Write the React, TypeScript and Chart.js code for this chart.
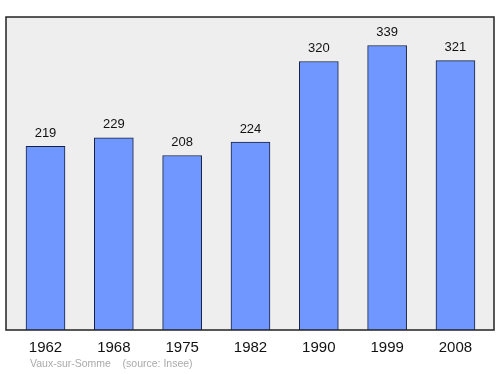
import React, { useEffect, useRef } from "react";
import { Chart, registerables } from "chart.js";

Chart.register(...registerables);

const years: string[] = ["1962", "1968", "1975", "1982", "1990", "1999", "2008"];
const population: number[] = [219, 229, 208, 224, 320, 339, 321];
const sourceText = "Vaux-sur-Somme    (source: Insee)";

const FONT = "'Liberation Sans', Arial, sans-serif";

export default function App() {
  const ref = useRef<HTMLCanvasElement | null>(null);

  useEffect(() => {
    document.body.style.margin = "0";
    const canvas = ref.current;
    if (!canvas) return;

    const framePlugin = {
      id: "frame",
      beforeDatasetsDraw(chart: any) {
        const { ctx, chartArea: a } = chart;
        ctx.save();
        ctx.fillStyle = "#eeeeee";
        ctx.fillRect(a.left, a.top, a.right - a.left, a.bottom - a.top);
        ctx.restore();
      },
      afterDatasetsDraw(chart: any) {
        const { ctx, chartArea: a } = chart;
        ctx.save();
        ctx.strokeStyle = "#222222";
        ctx.lineWidth = 1.5;
        ctx.strokeRect(a.left, a.top, a.right - a.left, a.bottom - a.top);
        const meta = chart.getDatasetMeta(0);
        ctx.fillStyle = "#111111";
        ctx.font = `13px ${FONT}`;
        ctx.textAlign = "center";
        ctx.textBaseline = "middle";
        meta.data.forEach((el: any, i: number) => {
          ctx.fillText(String(population[i]), el.x, el.y - 13);
        });
        ctx.fillStyle = "#aaaaaa";
        ctx.font = `10.5px ${FONT}`;
        ctx.textAlign = "left";
        ctx.fillText(sourceText, 30, 364);
        ctx.restore();
      },
    };

    const chart = new Chart(canvas, {
      type: "bar",
      data: {
        datasets: [
          {
            data: population.map((v, i) => ({ x: i, y: v })),
            backgroundColor: "#6f97ff",
            borderColor: "#16213f",
            borderWidth: 1,
            barThickness: 39,
          },
        ],
      },
      options: {
        responsive: false,
        animation: false,
        layout: { padding: { left: 6, right: 6, top: 17, bottom: 0 } },
        plugins: { legend: { display: false }, tooltip: { enabled: false } },
        scales: {
          x: {
            type: "linear",
            min: -0.578,
            max: 6.564,
            offset: false,
            grid: { display: false, drawTicks: false },
            border: { display: false },
            afterFit: (s: any) => {
              s.height = 44;
            },
            ticks: {
              stepSize: 1,
              includeBounds: false,
              autoSkip: false,
              maxRotation: 0,
              padding: 9,
              color: "#111111",
              font: { family: FONT, size: 15 },
              callback: (v: any) => {
                const n = Number(v);
                return Number.isInteger(n) && years[n] !== undefined ? years[n] : "";
              },
            },
          },
          y: {
            display: false,
            min: 0,
            max: 373,
          },
        },
      },
      plugins: [framePlugin],
    });

    return () => chart.destroy();
  }, []);

  return (
    <div style={{ width: 500, height: 374 }}>
      <canvas ref={ref} width={500} height={374} />
    </div>
  );
}
